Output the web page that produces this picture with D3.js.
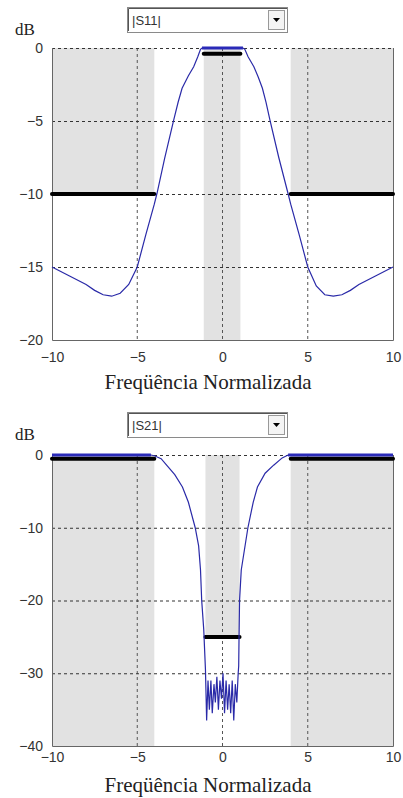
<!DOCTYPE html>
<html>
<head>
<meta charset="utf-8">
<script src="https://cdn.jsdelivr.net/npm/d3@7"></script>
<style>
  body { margin: 0; background: #fff; }
  svg { display: block; }
</style>
</head>
<body>
<div id="chart"></div>
<script>
"use strict"

// |S11| response (freq normalised, dB)
const freqS11 = [-10, -9, -8, -7.5, -7, -6.5, -6, -5.5, -5, -4.5, -4, -3.84, -3.4, -2.86, -2.6, -2.37, -2, -1.69, -1.45, -1.29, -1.2,
                 1.2, 1.31, 1.5, 1.84, 2.1, 2.34, 2.55, 2.78, 3.3, 3.84, 4, 4.5, 5, 5.5, 6, 6.5, 7, 7.5, 8, 9, 10];
const dbS11 = [-15, -15.6, -16.2, -16.6, -16.9, -17, -16.8, -16.2, -15, -12.8, -10.7, -9.95, -7.6, -4.93, -3.7, -2.76, -1.9, -1.28, -0.6, -0.09, 0,
               0, -0.09, -0.6, -1.28, -2, -2.76, -3.7, -4.93, -7.5, -9.95, -10.7, -12.8, -15, -16.3, -16.9, -17, -16.9, -16.6, -16.2, -15.6, -15];

// |S21| response
const freqS21 = [-10, -6, -4.2, -4, -3.6, -3.24, -2.8, -2.35, -2, -1.6, -1.4, -1.29, -1.22, -1.1, -1.0,
                 -0.93, -0.85, -0.77, -0.68, -0.6, -0.5, -0.42, -0.33, -0.24, -0.15, -0.06, 0.03, 0.12, 0.21, 0.3, 0.39, 0.48, 0.57, 0.66, 0.75, 0.84,
                 0.92, 0.95, 0.97, 1.0, 1.1, 1.49, 1.8, 2.05, 2.5, 3.0, 3.5, 3.85, 6, 10];
const dbS21 = [0, 0, 0, -0.1, -0.5, -1.5, -2.7, -4.4, -6.5, -10, -12.5, -15.8, -20, -24, -29.5,
               -36.5, -31, -35, -31, -35.5, -31.5, -34, -30.5, -35, -31, -33.5, -30, -35.5, -31, -35, -31.5, -35.5, -31, -36.5, -31.5, -34,
               -30, -29, -25, -20, -15.8, -10, -6.5, -4.4, -2.5, -1.4, -0.4, 0, 0, 0];

const xTicks = [-10, -5, 0, 5, 10];
const yTicksS11 = [0, -5, -10, -15, -20];
const yTicksS21 = [0, -10, -20, -30, -40];

// shaded spec regions: [f0, f1, dbTop, dbBottom]
const zonesS11 = [[-10, -4, 0, -10], [-1.1, 1.05, 0, -20], [4, 10, 0, -10]];
const zonesS21 = [[-10, -4, 0, -40], [-1, 1, 0, -25], [4, 10, 0, -40]];

// spec limit lines: [f0, f1, db]
const limitsS11 = [[-10, -4, -10], [-1.1, 1.05, -0.4], [4, 10, -10]];
const limitsS21 = [[-10, -4, -0.5], [-1, 1, -25], [4, 10, -0.5]];

const width = 403;
const height = 798;

const svg = d3.select("#chart").append("svg")
  .attr("width", width)
  .attr("height", height);

svg.append("rect")
  .attr("width", width)
  .attr("height", height)
  .attr("fill", "#fff");

drawPanel({
  top: 48, bottom: 340, yMin: -20,
  freq: freqS11, db: dbS11, yTicks: yTicksS11,
  zones: zonesS11, limits: limitsS11,
  label: "|S11|", boxY: 7, xPad: 12, titleY: 389, dbY: 35,
  thick: f => Math.abs(f) <= 1.3
});

drawPanel({
  top: 455, bottom: 746, yMin: -40,
  freq: freqS21, db: dbS21, yTicks: yTicksS21,
  zones: zonesS21, limits: limitsS21,
  label: "|S21|", boxY: 412, xPad: 6, titleY: 792, dbY: 440,
  thick: f => Math.abs(f) >= 3.85
});

function drawPanel(cfg) {
  const left = 52, right = 393;

  const x = d3.scaleLinear().domain([-10, 10]).range([left, right]);
  const y = d3.scaleLinear().domain([cfg.yMin, 0]).range([cfg.bottom, cfg.top]);

  const g = svg.append("g");

  // grey spec zones
  g.selectAll("rect.zone")
    .data(cfg.zones)
    .enter().append("rect")
      .attr("class", "zone")
      .attr("x", d => x(d[0]))
      .attr("y", d => y(d[2]))
      .attr("width", d => x(d[1]) - x(d[0]))
      .attr("height", d => y(d[3]) - y(d[2]))
      .attr("fill", "#e2e2e2");

  // dashed grid
  g.selectAll("line.vgrid")
    .data(xTicks.slice(1, -1))
    .enter().append("line")
      .attr("x1", d => x(d)).attr("x2", d => x(d))
      .attr("y1", cfg.top).attr("y2", cfg.bottom)
      .attr("stroke", "#555")
      .attr("stroke-dasharray", "3,3");

  g.selectAll("line.hgrid")
    .data(cfg.yTicks.slice(0, -1))
    .enter().append("line")
      .attr("x1", left).attr("x2", right)
      .attr("y1", d => y(d) + 0.5).attr("y2", d => y(d) + 0.5)
      .attr("stroke", "#333")
      .attr("stroke-dasharray", "3,3");

  // frame (left, bottom, right)
  g.append("path")
    .attr("d", `M${left + 0.5},${cfg.top}V${cfg.bottom + 0.5}H${right + 0.5}V${cfg.top}`)
    .attr("fill", "none")
    .attr("stroke", "#666");

  // limit lines
  g.selectAll("line.limit")
    .data(cfg.limits)
    .enter().append("line")
      .attr("x1", d => x(d[0])).attr("x2", d => x(d[1]))
      .attr("y1", d => y(d[2])).attr("y2", d => y(d[2]))
      .attr("stroke", "#000")
      .attr("stroke-width", 4)
      .attr("stroke-linecap", "round");

  const pts = cfg.freq.map((f, i) => [f, cfg.db[i]]);
  const line = d3.line().x(d => x(d[0])).y(d => y(d[1]));

  g.append("path")
    .datum(pts)
    .attr("d", line)
    .attr("fill", "none")
    .attr("stroke", "#2a2aa8")
    .attr("stroke-width", 1.2);

  // flat 0 dB stretches drawn heavier, as in the picture
  const flat = d3.line()
    .defined(d => cfg.thick(d[0]) && d[1] === 0)
    .x(d => x(d[0])).y(d => y(d[1]));

  g.append("path")
    .datum(pts)
    .attr("d", flat)
    .attr("fill", "none")
    .attr("stroke", "#2a2ab8")
    .attr("stroke-width", 3);

  // axes
  const yAxis = d3.axisLeft(y).tickValues(cfg.yTicks).tickSize(0).tickPadding(9);
  const xAxis = d3.axisBottom(x).tickValues(xTicks).tickSize(0).tickPadding(cfg.xPad);

  const ya = g.append("g").attr("transform", `translate(${left},0)`).call(yAxis);
  const xa = g.append("g").attr("transform", `translate(0,${cfg.bottom})`).call(xAxis);

  [ya, xa].forEach(a => {
    a.select(".domain").remove();
    a.selectAll("text")
      .attr("font-family", "'Liberation Sans', Arial, sans-serif")
      .attr("font-size", 14)
      .attr("fill", "#333");
  });

  // unit label
  g.append("text")
    .attr("x", 15)
    .attr("y", cfg.dbY)
    .attr("font-family", "'Liberation Serif', 'Times New Roman', serif")
    .attr("font-size", 17)
    .attr("fill", "#222")
    .text("dB");

  // x label
  g.append("text")
    .attr("x", 208)
    .attr("y", cfg.titleY)
    .attr("text-anchor", "middle")
    .attr("font-family", "'Liberation Serif', 'Times New Roman', serif")
    .attr("font-size", 21)
    .attr("fill", "#222")
    .text("Freqüência Normalizada");

  // drop-down selector
  const box = g.append("g").attr("transform", `translate(127,${cfg.boxY})`);
  box.append("rect")
    .attr("x", 0.5).attr("y", 0.5)
    .attr("width", 160).attr("height", 25)
    .attr("fill", "#fff")
    .attr("stroke", "#8a8a8a");
  box.append("path")
    .attr("d", "M1.5,24V1.5H160")
    .attr("fill", "none")
    .attr("stroke", "#555");
  box.append("text")
    .attr("x", 5)
    .attr("y", 18)
    .attr("font-family", "'Liberation Sans', Arial, sans-serif")
    .attr("font-size", 13)
    .attr("fill", "#333")
    .text(cfg.label);
  box.append("rect")
    .attr("x", 141.5).attr("y", 3.5)
    .attr("width", 16).attr("height", 19)
    .attr("fill", "#f4f4f4")
    .attr("stroke", "#999");
  box.append("path")
    .attr("d", "M146,11h7l-3.5,4z")
    .attr("fill", "#000");
}
</script>
</body>
</html>
